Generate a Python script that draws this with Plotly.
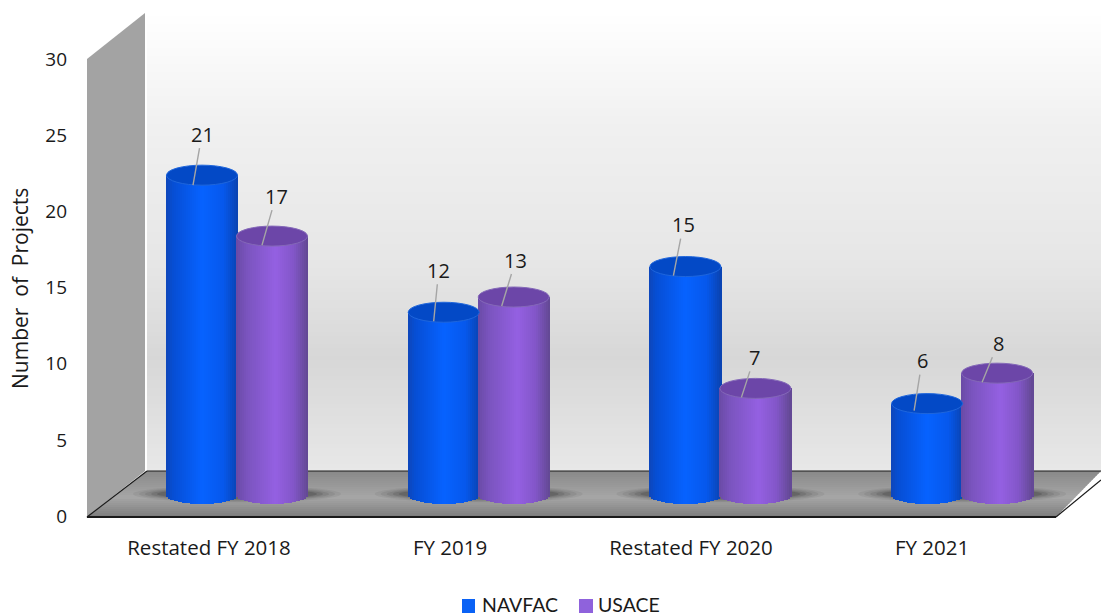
import math
import plotly.graph_objects as go

# Chart data
categories = ["Restated FY 2018", "FY 2019", "Restated FY 2020", "FY 2021"]
navfac = [21, 12, 15, 6]
usace = [17, 13, 7, 8]
y_ticks = [0, 5, 10, 15, 20, 25, 30]

# Page and plot frame, in pixels
W, H = 1101, 616
FRONT_L, FRONT_R = 87, 1056
FRONT_Y, WALL_TOP = 517, 12
AXIS_ZERO_Y = 516
BACK_L, BACK_Y = 147, 471
PX_PER_UNIT = 15.23
BASE_Y = 495          # pixel height of value 0 for the cylinders
PITCH = 241.7
CENTER0 = 237         # pixel centre of the first cylinder pair
HALF_W = 36           # cylinder half width in pixels
TOP_RY, BOT_RY = 10, 9
STRIP = 2

def px(x):
    return x / W

def py(y):
    return 1 - y / H

def lerp_stops(stops, t):
    for (t0, c0), (t1, c1) in zip(stops, stops[1:]):
        if t <= t1:
            f = (t - t0) / (t1 - t0)
            c = [round(a + (b - a) * f) for a, b in zip(c0, c1)]
            return f"rgb({c[0]},{c[1]},{c[2]})"
    c = stops[-1][1]
    return f"rgb({c[0]},{c[1]},{c[2]})"

def grey(v):
    return (v, v, v)

blue_body = [(0, (14, 70, 185)), (0.10, (6, 78, 212)), (0.5, (6, 98, 255)), (0.8, (6, 88, 236)), (1, (10, 66, 176))]
purple_body = [(0, (106, 74, 165)), (0.15, (122, 84, 190)), (0.55, (148, 96, 226)), (0.8, (130, 86, 200)), (1, (98, 72, 146))]
blue_top = "#0349c6"
purple_top = "#6c46a8"
blue_rim = "#1f66dc"
purple_rim = "#8468b8"

u_x = HALF_W / PITCH            # half width in axis units
ry_bot = BOT_RY / PX_PER_UNIT
ry_top = TOP_RY / PX_PER_UNIT

fig = go.Figure()

# Invisible trace that carries the visible category and value axes
fig.add_trace(go.Scatter(x=categories, y=[None] * 4, mode="markers", showlegend=False, hoverinfo="skip"))

def add_cylinders(values, center_px, stops, name):
    """Vertical colour strips that together form a shaded cylinder body."""
    n = int(2 * HALF_W / STRIP)
    for i in range(n):
        t = (i + 0.5) / n
        drop = ry_bot * math.sqrt(max(0, 1 - (2 * t - 1) ** 2))
        fig.add_trace(go.Bar(
            x=list(range(len(values))),
            y=[v + drop for v in values],
            base=[-drop] * len(values),
            offset=(center_px - HALF_W + i * STRIP) / PITCH,
            width=(STRIP + 0.4) / PITCH,
            marker=dict(color=lerp_stops(stops, t), line=dict(width=0)),
            xaxis="x2", yaxis="y2", showlegend=False, name=name, hoverinfo="skip",
        ))

add_cylinders(navfac, -35, blue_body, "NAVFAC")
add_cylinders(usace, 35, purple_body, "USACE")

shapes = []

# Back wall gradient
wall_stops = [(0, grey(255)), (0.25, grey(240)), (0.55, grey(230)), (0.75, grey(215)), (1, grey(232))]
for y in range(WALL_TOP, BACK_Y, 4):
    t = (y - WALL_TOP) / (BACK_Y - WALL_TOP)
    shapes.append(dict(type="rect", xref="paper", yref="paper", layer="below", line_width=0,
                       x0=px(BACK_L), x1=1, y0=py(y), y1=py(y + 5), fillcolor=lerp_stops(wall_stops, t)))

# Left wall
shapes.append(dict(type="path", xref="paper", yref="paper", layer="below", line_width=0, fillcolor="#a3a3a3",
                   path=f"M{px(FRONT_L)},{py(59)} L{px(BACK_L-2)},{py(WALL_TOP+1)} L{px(BACK_L-2)},{py(BACK_Y)} L{px(FRONT_L)},{py(FRONT_Y)} Z"))

# Floor, shaded in bands clipped to a parallelogram
floor_stops = [(0, grey(138)), (0.55, grey(166)), (1, grey(122))]
for y in range(BACK_Y, FRONT_Y, 2):
    t = (y - BACK_Y) / (FRONT_Y - BACK_Y)
    t2 = (y + 2.5 - BACK_Y) / (FRONT_Y - BACK_Y)
    xl = BACK_L + (FRONT_L - BACK_L) * t
    xl2 = BACK_L + (FRONT_L - BACK_L) * t2
    xr = 1101 + (FRONT_R - 1101) * t
    xr2 = 1101 + (FRONT_R - 1101) * t2
    shapes.append(dict(type="path", xref="paper", yref="paper", layer="below", line_width=0,
                       fillcolor=lerp_stops(floor_stops, t),
                       path=f"M{px(xl)},{py(y)} L{px(xr)},{py(y)} L{px(xr2)},{py(y+2.5)} L{px(xl2)},{py(y+2.5)} Z"))

# Soft shadows beneath each pair of cylinders
for k in range(4):
    cx = CENTER0 + k * PITCH
    for grow, alpha in [(32, 0.07), (26, 0.09), (20, 0.11), (14, 0.15), (8, 0.2)]:
        half_h = 4 + grow * 0.14
        shapes.append(dict(type="circle", xref="paper", yref="paper", layer="below", line_width=0,
                           fillcolor=f"rgba(40,40,40,{alpha})",
                           x0=px(cx - 72 - grow), x1=px(cx + 72 + grow),
                           y0=py(494 + half_h), y1=py(494 - half_h)))

# Floor and wall edges
line = dict(color="#1a1a1a", width=1.2)
shapes += [
    dict(type="line", xref="paper", yref="paper", layer="below", line=line, x0=px(BACK_L), x1=1, y0=py(BACK_Y), y1=py(BACK_Y)),
    dict(type="line", xref="paper", yref="paper", layer="below", line=line, x0=px(FRONT_L), x1=px(BACK_L), y0=py(FRONT_Y), y1=py(BACK_Y)),
    dict(type="line", xref="paper", yref="paper", layer="below", line=line, x0=px(FRONT_R), x1=1, y0=py(FRONT_Y), y1=py(480)),
    dict(type="line", xref="paper", yref="paper", layer="below", line=dict(color="#1a1a1a", width=2.2), x0=px(FRONT_L), x1=px(FRONT_R), y0=py(FRONT_Y), y1=py(FRONT_Y)),
]

# Cylinder caps in axis coordinates
def caps(values, center_px, fill, rim):
    for i, v in enumerate(values):
        c = i + center_px / PITCH
        shapes.append(dict(type="circle", xref="x2", yref="y2", layer="above", fillcolor=fill,
                           line=dict(color=rim, width=1),
                           x0=c - u_x + 0.002, x1=c + u_x - 0.002, y0=v - ry_top, y1=v + ry_top))

caps(navfac, -35, blue_top, blue_rim)
caps(usace, 35, purple_top, purple_rim)

# Legend swatches
swatches = [(462, 475, "#0a62f5"), (579, 593, "#8f62dc")]
for x0, x1, col in swatches:
    shapes.append(dict(type="rect", xref="paper", yref="paper", layer="above", line_width=0, fillcolor=col,
                       x0=px(x0), x1=px(x1), y0=py(613), y1=py(599)))

FONT = "Open Sans"
TEXT = "#1a1a1a"

annotations = []

# Value labels with grey leader lines: leader-end offset and label offset, in pixels
blue_lead = [(-9, 10, 9, -51), (-10, 9, 5, -51), (-12, 9, 10, -51), (-13, 7, 8, -50)]
purple_lead = [(-10, 9, 14, -49), (-12, 9, 14, -46), (-14, 9, 13, -40), (-15, 9, 16, -39)]
for values, center_px, leads in [(navfac, -35, blue_lead), (usace, 35, purple_lead)]:
    for i, (v, lead) in enumerate(zip(values, leads)):
        annotations.append(dict(
            x=i + center_px / PITCH, y=v, xref="x2", yref="y2", text=str(v),
            xshift=lead[0], yshift=-lead[1], ax=lead[2], ay=lead[3], axref="pixel", ayref="pixel",
            showarrow=True, arrowhead=0, arrowwidth=1.4, arrowcolor="#a5a5a5",
            font=dict(family=FONT, size=20, color=TEXT), standoff=0, startstandoff=0, borderpad=0,
        ))

# Legend labels
for x, label in [(482, "NAVFAC"), (598, "USACE")]:
    annotations.append(dict(xref="paper", yref="paper", x=px(x), y=py(604), xanchor="left", yanchor="middle",
                            text=label, showarrow=False, borderpad=0, xshift=-1,
                            font=dict(family="Lato", size=19.5, color=TEXT)))

# Axis title
annotations.append(dict(xref="paper", yref="paper", x=px(20), y=py(289), xanchor="center", yanchor="middle",
                        text="Number\u00a0 of\u00a0 Projects", textangle=-90,
                        showarrow=False, font=dict(family=FONT, size=21, color=TEXT)))

x_dom = [px(FRONT_L), px(FRONT_R)]
y_dom = [py(AXIS_ZERO_Y), py(WALL_TOP)]
y_top_val = (AXIS_ZERO_Y - WALL_TOP) / PX_PER_UNIT
label_c0, label_pitch = 209, 241

fig.update_layout(
    width=W, height=H,
    margin=dict(l=0, r=0, t=0, b=0, pad=0, autoexpand=False),
    paper_bgcolor="white", plot_bgcolor="rgba(0,0,0,0)",
    barmode="overlay", bargap=0, showlegend=False,
    font=dict(family=FONT, size=19, color=TEXT),
    shapes=shapes, annotations=annotations,
    xaxis=dict(domain=x_dom, type="category", categoryorder="array", categoryarray=categories,
               tickmode="array", tickvals=categories, ticktext=categories, automargin=False,
               range=[(FRONT_L - label_c0) / label_pitch, (FRONT_R - label_c0) / label_pitch],
               showgrid=False, zeroline=False, showline=False, ticks="", ticklabelstandoff=17,
               tickfont=dict(family=FONT, size=20.5, color=TEXT)),
    yaxis=dict(domain=y_dom, range=[0, y_top_val], tickmode="array", tickvals=y_ticks, automargin=False,
               showgrid=False, zeroline=False, showline=False, ticks="", ticklabelstandoff=19,
               tickfont=dict(family=FONT, size=19, color=TEXT)),
    xaxis2=dict(domain=x_dom, overlaying="x", anchor="y2", visible=False,
                range=[(FRONT_L - CENTER0) / PITCH, (FRONT_R - CENTER0) / PITCH]),
    yaxis2=dict(domain=y_dom, overlaying="y", anchor="x2", visible=False,
                range=[(BASE_Y - AXIS_ZERO_Y) / PX_PER_UNIT, (BASE_Y - WALL_TOP) / PX_PER_UNIT]),
)

fig.write_html("out.html", config=dict(displayModeBar=False))
